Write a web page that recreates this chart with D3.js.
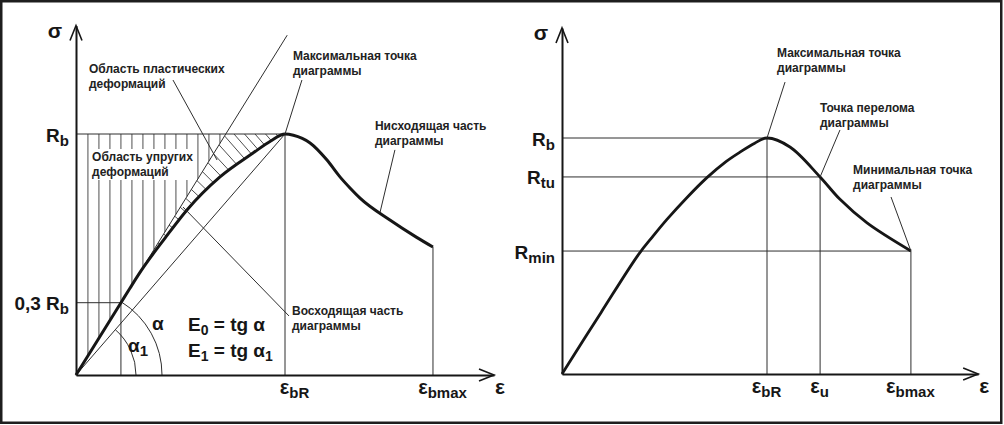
<!DOCTYPE html>
<html>
<head>
<meta charset="utf-8">
<script src="https://cdn.jsdelivr.net/npm/d3@7"></script>
<style>
body{margin:0;background:#fff;}
svg{display:block;}
</style>
</head>
<body>
<svg id="chart" width="1004" height="425"></svg>
<script>
// левая диаграмма: деформация в долях eps_bR, напряжение в долях Rb
var leftEps = [0, 0.215, 0.258, 0.311, 0.426, 0.531, 0.689, 0.847, 0.93, 1, 1.04, 1.12, 1.201, 1.263, 1.311, 1.359, 1.502, 1.632, 1.708];
var leftSig = [0, 0.3, 0.36, 0.432, 0.568, 0.685, 0.822, 0.921, 0.97, 1, 0.995, 0.963, 0.892, 0.822, 0.776, 0.734, 0.643, 0.57, 0.531];
var leftSigTicks = [1, 0.3];
var leftSigLabels = [["R", "b"], ["0,3 R", "b"]];
var leftEpsTicks = [1, 1.708];
var leftEpsLabels = [["ε", "bR"], ["ε", "bmax"]];

// правая диаграмма
var rightEps = [0, 0.19, 0.372, 0.445, 0.512, 0.61, 0.707, 0.80, 0.868, 0.94, 1, 1.112, 1.259, 1.356, 1.488, 1.702];
var rightSig = [0, 0.26, 0.505, 0.585, 0.655, 0.748, 0.832, 0.90, 0.94, 0.978, 1, 0.962, 0.835, 0.74, 0.64, 0.521];
var rightSigTicks = [1, 0.835, 0.521];
var rightSigLabels = [["R", "b"], ["R", "tu"], ["R", "min"]];
var rightEpsTicks = [1, 1.259, 1.702];
var rightEpsLabels = [["ε", "bR"], ["ε", "u"], ["ε", "bmax"]];

// подписи
var leftNotes = [["Область пластических", "деформаций"], ["Максимальная точка", "диаграммы"],
                 ["Нисходящая часть", "диаграммы"], ["Восходящая часть", "диаграммы"]];
var elasticNote = ["Область упругих", "деформаций"];
var rightNotes = [["Максимальная точка", "диаграммы"], ["Точка перелома", "диаграммы"],
                  ["Минимальная точка", "диаграммы"]];
var formula0 = [["E", 0], ["0", 1], [" = tg α", 0]];
var formula1 = [["E", 0], ["1", 1], [" = tg α", 0], ["1", 1]];
var angle0 = [["α", 0]];
var angle1 = [["α", 0], ["1", 1]];

var FONT = '"Liberation Sans", Arial, sans-serif';
var INK = "#161616", THIN = "#2e2e2e";

var svg = d3.select("#chart");
svg.append("rect").attr("width", 1004).attr("height", 425).attr("fill", "#fff");
svg.append("rect").attr("x", 1.25).attr("y", 1.25).attr("width", 1000).attr("height", 421.5)
   .attr("fill", "none").attr("stroke", "#1e1e1e").attr("stroke-width", 2.5);

function textParts(g, x, y, parts, size, subSize, anchor){
  var t = g.append("text").attr("x", x).attr("y", y)
           .attr("text-anchor", anchor || "start").attr("fill", INK)
           .attr("font-family", FONT).attr("font-weight", "bold")
           .attr("font-size", size).style("white-space", "pre");
  var low = false;
  parts.forEach(function(p){
    var ts = t.append("tspan").text(p[0]);
    if (p[1]) { ts.attr("font-size", subSize); if (!low) { ts.attr("dy", 4); low = true; } }
    else if (low) { ts.attr("dy", -4); low = false; }
  });
  return t;
}

function note(g, x, y, lines){
  var t = g.append("text").attr("font-family", FONT).attr("font-weight", "bold")
           .attr("font-size", 12).attr("fill", "#222");
  lines.forEach(function(s, i){ t.append("tspan").attr("x", x).attr("y", y + i*15).text(s); });
  return t;
}

function seg(g, x, y, a, b, w, c){
  return g.append("line")
          .attr("x1", x(a[0])).attr("y1", y(a[1]))
          .attr("x2", x(b[0])).attr("y2", y(b[1]))
          .attr("stroke", c || THIN).attr("stroke-width", w || 1);
}

function axes(g, x, y, epsTicks, epsLabels, sigTicks, sigLabels, shift){
  var ax = g.append("g").attr("transform", "translate(0," + y(0) + ")")
            .call(d3.axisBottom(x).tickValues(epsTicks).tickSize(0).tickSizeOuter(0).tickFormat(""));
  ax.select(".domain").attr("stroke", INK).attr("stroke-width", 2);
  ax.selectAll(".tick text").remove();
  ax.selectAll(".tick").each(function(d, i){
    textParts(d3.select(this), shift, 19, [[epsLabels[i][0], 0], [epsLabels[i][1], 1]], 20, 15, "middle");
  });
  var ay = g.append("g").attr("transform", "translate(" + x(0) + ",0)")
            .call(d3.axisLeft(y).tickValues(sigTicks).tickSize(0).tickSizeOuter(0).tickFormat(""));
  ay.select(".domain").attr("stroke", INK).attr("stroke-width", 2);
  ay.selectAll(".tick text").remove();
  ay.selectAll(".tick").each(function(d, i){
    textParts(d3.select(this), -7, 7, [[sigLabels[i][0], 0], [sigLabels[i][1], 1]], 19, 15, "end");
  });
  // стрелки
  var x0 = x.range()[0], x1 = x.range()[1], y0 = y.range()[0], y1 = y.range()[1];
  g.append("path").attr("d", "M" + (x1-15) + "," + (y0-6) + "L" + x1 + "," + y0 + "L" + (x1-15) + "," + (y0+6))
   .attr("fill", "none").attr("stroke", INK).attr("stroke-width", 1.6);
  g.append("path").attr("d", "M" + (x0-6) + "," + (y1+15) + "L" + x0 + "," + y1 + "L" + (x0+6) + "," + (y1+15))
   .attr("fill", "none").attr("stroke", INK).attr("stroke-width", 1.6);
  textParts(g, x1 + 1, y0 + 19, [["ε", 0]], 21, 15, "start");
  textParts(g, x0 - 21, y1 + 12, [["σ", 0]], 21, 15, "middle");
}

// ================= левая диаграмма =================
var xL = d3.scaleLinear().domain([0, 2]).range([76, 494]);
var yL = d3.scaleLinear().domain([0, 1.45]).range([375, 375 - 1.45*241]);
var gL = svg.append("g");
var ptsL = leftEps.map(function(e, i){ return [e, leftSig[i]]; });
var peakL = leftSig.indexOf(d3.max(leftSig));
var E0 = leftSig[1] / leftEps[1];           // касательная в начале
var epsTop = leftSig[peakL] / E0;           // касательная достигает Rb
var lineL = d3.line().x(function(d){ return xL(d[0]); }).y(function(d){ return yL(d[1]); })
              .curve(d3.curveMonotoneX);

// вертикальная штриховка (упругая область)
var step = 11 / (xL(1) - xL(0));
d3.range(-6, 20).map(function(k){ return leftEps[1] + k*step; })
  .filter(function(e){ return e > step*0.5 && e < epsTop; })
  .forEach(function(e){ seg(gL, xL, yL, [e, leftSig[peakL]], [e, E0*e], 0.9, "#3a3a3a"); });

// наклонная штриховка (пластическая область)
var clipD = lineL(ptsL.slice(0, peakL + 1)) + "L" + xL(epsTop) + "," + yL(leftSig[peakL]) + "Z";
svg.append("defs").append("clipPath").attr("id", "plast").append("path").attr("d", clipD);
var hatch = gL.append("g").attr("clip-path", "url(#plast)");
var pA = [xL(0.25), yL(E0*0.25)], pB = [xL(epsTop), yL(leftSig[peakL])], pC = [xL(1), yL(leftSig[peakL])];
var lenAB = Math.hypot(pB[0]-pA[0], pB[1]-pA[1]), lenBC = pC[0] - pB[0], total = lenAB + lenBC;
d3.range(4, total, 10.5).forEach(function(s){
  var p = s < lenAB ? [pA[0] + (pB[0]-pA[0])*s/lenAB, pA[1] + (pB[1]-pA[1])*s/lenAB] : [pB[0] + (s - lenAB), pB[1]];
  var m = 0.55 + 0.6*Math.min(1, s/lenAB);
  hatch.append("line").attr("x1", p[0] - 2).attr("y1", p[1] - 2*m)
       .attr("x2", p[0] + 60).attr("y2", p[1] + 60*m)
       .attr("stroke", "#3a3a3a").attr("stroke-width", 0.9);
});

// надпись упругой области на белом фоне
var eNote = note(gL, xL(0.077), yL(0.888), elasticNote);
var bb = eNote.node().getBBox();
gL.insert("rect", function(){ return eNote.node(); })
  .attr("x", bb.x - 3).attr("y", bb.y - 1).attr("width", bb.width + 5).attr("height", bb.height + 2)
  .attr("fill", "#fff");

// вспомогательные линии
seg(gL, xL, yL, [0, leftSig[1]], ptsL[1]);
seg(gL, xL, yL, ptsL[1], [leftEps[1], 0]);
seg(gL, xL, yL, [0, leftSig[peakL]], ptsL[peakL]);
seg(gL, xL, yL, ptsL[peakL], [leftEps[peakL], 0]);
seg(gL, xL, yL, ptsL[ptsL.length-1], [leftEps[ptsL.length-1], 0]);
// E0 - касательная, E1 - секущая
seg(gL, xL, yL, [0, 0], [1.41/E0, 1.41]);
seg(gL, xL, yL, [0, 0], ptsL[peakL]);

// дуги углов
var ox = xL(0), oy = yL(0);
var a0 = Math.atan2(yL(0) - yL(E0), xL(1) - xL(0));
var a1 = Math.atan2(yL(0) - yL(leftSig[peakL]), xL(leftEps[peakL]) - xL(0));
[[86, a0], [60, a1]].forEach(function(r){
  var p = d3.path(); p.arc(ox, oy, r[0], -r[1], 0);
  gL.append("path").attr("d", p.toString()).attr("fill", "none").attr("stroke", THIN).attr("stroke-width", 1);
});
textParts(gL, ox + 76, oy - 45, angle0, 19, 15);
textParts(gL, ox + 52, oy - 23, angle1, 19, 15);
textParts(gL, xL(0.536), yL(0.183), formula0, 19, 14);
textParts(gL, xL(0.536), yL(0.183) + 26, formula1, 19, 14);

// кривая
gL.append("path").attr("d", lineL(ptsL)).attr("fill", "none").attr("stroke", INK)
  .attr("stroke-width", 3).attr("stroke-linejoin", "round");

// выноски
var leadersL = [
  {a: [0.464, 1.224], b: [0.675, 0.892], dx: -84, dy: -7, at: "a"},
  {a: [1.081, 1.224], b: ptsL[peakL], dx: -9, dy: -20, at: "a"},
  {a: [1.526, 0.934], b: [1.455, 0.676], dx: -20, dy: -20, at: "a"},
  {a: [0.512, 0.697], b: [1.019, 0.245], dx: 3, dy: -1, at: "b"}
];
leadersL.forEach(function(l, i){
  seg(gL, xL, yL, l.a, l.b, 1);
  var q = l[l.at];
  note(gL, xL(q[0]) + l.dx, yL(q[1]) + l.dy, leftNotes[i]);
});

axes(gL, xL, yL, leftEpsTicks, leftEpsLabels, leftSigTicks, leftSigLabels, 9);

// ================= правая диаграмма =================
var xR = d3.scaleLinear().domain([0, 2.03]).range([562, 562 + 2.03*205]);
var yR = d3.scaleLinear().domain([0, 1.466]).range([374, 374 - 1.466*236]);
var gR = svg.append("g");
var ptsR = rightEps.map(function(e, i){ return [e, rightSig[i]]; });
var lineR = d3.line().x(function(d){ return xR(d[0]); }).y(function(d){ return yR(d[1]); })
              .curve(d3.curveCatmullRom.alpha(0.5));

rightSigTicks.forEach(function(s, i){
  var e = rightEpsTicks[i];
  seg(gR, xR, yR, [0, s], [e, s]);
  seg(gR, xR, yR, [e, s], [e, 0]);
});

gR.append("path").attr("d", lineR(ptsR)).attr("fill", "none").attr("stroke", INK)
  .attr("stroke-width", 2.8).attr("stroke-linejoin", "round");

var leadersR = [
  {a: [1.088, 1.237], b: [rightEpsTicks[0], rightSigTicks[0]], dx: -8, dy: -25},
  {a: [1.356, 1.034], b: [rightEpsTicks[1], rightSigTicks[1]], dx: -20, dy: -18},
  {a: [1.605, 0.75], b: [rightEpsTicks[2], rightSigTicks[2]], dx: -38, dy: -23}
];
leadersR.forEach(function(l, i){
  seg(gR, xR, yR, l.a, l.b, 1);
  note(gR, xR(l.a[0]) + l.dx, yR(l.a[1]) + l.dy, rightNotes[i]);
});

axes(gR, xR, yR, rightEpsTicks, rightEpsLabels, rightSigTicks, rightSigLabels, -1);
</script>
</body>
</html>
